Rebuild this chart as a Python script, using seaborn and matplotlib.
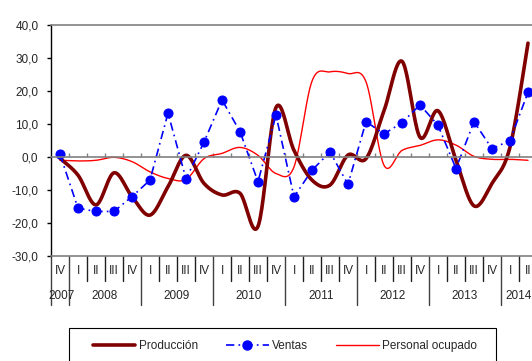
import numpy as np
import pandas as pd
import matplotlib
matplotlib.use("Agg")
import matplotlib.pyplot as plt
import matplotlib.transforms as mtransforms
from matplotlib.lines import Line2D
from matplotlib.patches import Rectangle
import seaborn as sns

# Quarter / year categories
quarters = ["IV"] + ["I", "II", "III", "IV"] * 6 + ["I", "II"]
years = ["2007", "2008", "2009", "2010", "2011", "2012", "2013", "2014"]
year_first = [0, 1, 5, 9, 13, 17, 21, 25]
year_last = [0, 4, 8, 12, 16, 20, 24, 26]

# Series values
produccion = [-0.4, -5.5, -14.5, -4.8, -12.0, -17.6, -9.0, 0.5, -8.0, -11.5,
              -11.0, -21.0, 15.0, 2.0, -7.0, -8.5, 0.6, -0.5, 14.0, 29.0,
              6.0, 14.0, -1.0, -14.8, -8.0, 3.0, 34.5]
ventas = [0.8, -15.5, -16.5, -16.5, -12.0, -7.0, 13.3, -6.6, 4.5, 17.3,
          7.7, -7.5, 12.7, -12.1, -4.0, 1.5, -8.3, 10.7, 7.0, 10.4,
          15.8, 9.6, -3.5, 10.7, 2.5, 5.0, 19.6]
personal = [-1.0, -1.2, -1.0, -0.1, -1.4, -4.5, -6.5, -6.8, -0.5, 1.1,
            2.9, 0.5, -5.0, -3.0, 23.0, 25.8, 25.3, 22.8, -2.5, 2.0,
            3.5, 5.2, 3.6, 0.2, -0.7, -0.7, -1.0]

y_ticks = [-30, -20, -10, 0, 10, 20, 30, 40]


def smooth(values, steps=24):
    # Excel-style smoothed line (Catmull-Rom through each point)
    p = np.asarray(values, dtype=float)
    x = np.arange(len(p), dtype=float)
    pts = np.column_stack([x, p])
    out = []
    for i in range(len(pts) - 1):
        p0 = pts[max(i - 1, 0)]
        p1 = pts[i]
        p2 = pts[i + 1]
        p3 = pts[min(i + 2, len(pts) - 1)]
        c1 = p1 + (p2 - p0) / 6.0
        c2 = p2 - (p3 - p1) / 6.0
        t = np.linspace(0, 1, steps, endpoint=(i == len(pts) - 2))[:, None]
        seg = ((1 - t) ** 3) * p1 + 3 * ((1 - t) ** 2) * t * c1 + 3 * (1 - t) * t ** 2 * c2 + t ** 3 * p2
        out.append(seg)
    out = np.vstack(out)
    return pd.DataFrame({"x": out[:, 0], "y": out[:, 1]})


sns.set_style("white")
plt.rcParams["font.family"] = ["Liberation Sans", "DejaVu Sans"]
fs = 8.5

fig = plt.figure(figsize=(5.32, 3.61), dpi=100)
ax = fig.add_axes([51 / 532, 105 / 361, 486 / 532, 231 / 361])

dark_red = "#800000"
blue = "#0000FF"
red = "#FF0000"
gray = "#808080"

sp = smooth(personal)
sns.lineplot(data=sp, x="x", y="y", ax=ax, color=red, lw=1.0,
             estimator=None, sort=False)
spr = smooth(produccion)
sns.lineplot(data=spr, x="x", y="y", ax=ax, color=dark_red, lw=2.6,
             estimator=None, sort=False)
dv = pd.DataFrame({"x": np.arange(len(ventas)), "y": ventas})
sns.lineplot(data=dv, x="x", y="y", ax=ax, color=blue, lw=1.2,
             linestyle=(0, (5, 2.5, 1, 2.5)), marker="o", markersize=6.5,
             markeredgecolor=blue, markerfacecolor=blue, estimator=None, sort=False)

ax.set_xlim(-0.5, len(quarters) - 0.5)
ax.set_ylim(-30, 40)
ax.set_xlabel("")
ax.set_ylabel("")

# y axis
ax.set_yticks(y_ticks)
ax.set_yticklabels([f"{v:.1f}".replace(".", ",") for v in y_ticks], fontsize=fs)
ax.tick_params(axis="y", direction="out", length=3, width=1, color="black", pad=6, left=True)
ax.spines["left"].set_color("black")
ax.spines["left"].set_linewidth(1.0)

# category axis crossing at zero
ax.spines["bottom"].set_position(("data", 0))
ax.spines["bottom"].set_color(gray)
ax.spines["bottom"].set_linewidth(1.2)
ax.set_xticks(np.arange(0.5, len(quarters) - 0.5, 1.0))
ax.tick_params(axis="x", direction="in", length=3, width=1, color=gray,
               labelbottom=False, bottom=True)
ax.spines["top"].set_color(gray)
ax.spines["top"].set_linewidth(1.2)
ax.spines["right"].set_visible(False)
ax.axhline(-30, color=gray, lw=1.2, clip_on=False, zorder=5)

# category table below the plot
trans = mtransforms.blended_transform_factory(ax.transData, ax.transAxes)
year_bounds = [f - 0.5 for f in year_first]
for k in range(len(quarters)):
    b = k - 0.5
    if b in year_bounds:
        ax.plot([b, b], [0, -0.21], transform=trans, color="#404040", lw=1.0, clip_on=False)
    else:
        ax.plot([b, b], [0, -0.108], transform=trans, color="#202020", lw=1.0, clip_on=False)
for k, q in enumerate(quarters):
    ax.text(k, -0.066, q, transform=trans, ha="center", va="center", fontsize=fs, clip_on=False)
for y, f, l in zip(years, year_first, year_last):
    ax.text((f + l) / 2 + (0.1 if y == "2007" else 0), -0.175, y, transform=trans,
            ha="center", va="center", fontsize=fs, clip_on=False)

# legend
handles = [
    Line2D([], [], color=dark_red, lw=2.6),
    Line2D([], [], color=blue, lw=1.2, linestyle=(0, (5, 2.5, 1, 2.5)), marker="o",
           markersize=6.5, markerfacecolor=blue, markeredgecolor=blue),
    Line2D([], [], color=red, lw=1.0),
]
labels = ["Producción", "Ventas", "Personal ocupado"]
fig.legend(handles, labels, loc="center", bbox_to_anchor=(285 / 532, 1 - 346 / 361),
           ncol=3, frameon=False, handlelength=3.6, columnspacing=2.4,
           handletextpad=0.3, fontsize=fs)
fig.patches.append(Rectangle((69 / 532, -0.1), 427 / 532, 0.1 + (361 - 328) / 361,
                             transform=fig.transFigure, fill=False,
                             edgecolor="black", lw=0.8))

fig.savefig("out.png", dpi=100)
